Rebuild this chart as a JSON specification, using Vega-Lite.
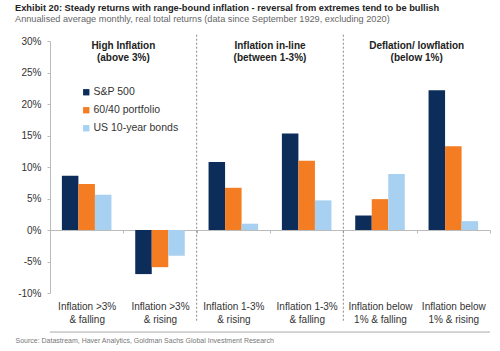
{
  "$schema": "https://vega.github.io/schema/vega-lite/v6.json",
  "width": 440,
  "height": 252,
  "autosize": {"type": "none"},
  "padding": {"left": 50, "top": 41, "right": 10, "bottom": 58},
  "title": {
    "text": "Exhibit 20: Steady returns with range-bound inflation - reversal from extremes tend to be bullish",
    "subtitle": "Annualised average monthly, real total returns (data since September 1929, excluding 2020)",
    "anchor": "start",
    "frame": "group",
    "dx": -35,
    "offset": 10,
    "font": "Liberation Sans",
    "fontSize": 9.3,
    "fontWeight": "bold",
    "color": "#222222",
    "subtitleFont": "Liberation Sans",
    "subtitleFontSize": 9.2,
    "subtitleColor": "#666666",
    "subtitlePadding": 2
  },
  "config": {"view": {"stroke": null}, "font": "Liberation Sans"},
  "datasets": {
    "bars": [
      {"cat": "Inflation >3%|& falling", "series": "S&P 500", "value": 8.6},
      {"cat": "Inflation >3%|& falling", "series": "60/40 portfolio", "value": 7.3},
      {"cat": "Inflation >3%|& falling", "series": "US 10-year bonds", "value": 5.6},
      {"cat": "Inflation >3%|& rising", "series": "S&P 500", "value": -7.0},
      {"cat": "Inflation >3%|& rising", "series": "60/40 portfolio", "value": -5.9},
      {"cat": "Inflation >3%|& rising", "series": "US 10-year bonds", "value": -4.1},
      {"cat": "Inflation 1-3%|& rising", "series": "S&P 500", "value": 10.8},
      {"cat": "Inflation 1-3%|& rising", "series": "60/40 portfolio", "value": 6.7},
      {"cat": "Inflation 1-3%|& rising", "series": "US 10-year bonds", "value": 1.0},
      {"cat": "Inflation 1-3%|& falling", "series": "S&P 500", "value": 15.3},
      {"cat": "Inflation 1-3%|& falling", "series": "60/40 portfolio", "value": 11.0},
      {"cat": "Inflation 1-3%|& falling", "series": "US 10-year bonds", "value": 4.7},
      {"cat": "Inflation below|1% & falling", "series": "S&P 500", "value": 2.3},
      {"cat": "Inflation below|1% & falling", "series": "60/40 portfolio", "value": 4.9},
      {"cat": "Inflation below|1% & falling", "series": "US 10-year bonds", "value": 8.9},
      {"cat": "Inflation below|1% & rising", "series": "S&P 500", "value": 22.2},
      {"cat": "Inflation below|1% & rising", "series": "60/40 portfolio", "value": 13.3},
      {"cat": "Inflation below|1% & rising", "series": "US 10-year bonds", "value": 1.4}
    ],
    "dividers": [
      {"cat": "Inflation 1-3%|& rising"},
      {"cat": "Inflation below|1% & falling"}
    ],
    "groups": [
      {"cat": "Inflation >3%|& rising", "label": ["High Inflation", "(above 3%)"]},
      {"cat": "Inflation 1-3%|& falling", "label": ["Inflation in-line", "(between 1-3%)"]},
      {"cat": "Inflation below|1% & rising", "label": ["Deflation/ lowflation", "(below 1%)"]}
    ]
  },
  "layer": [
    {
      "data": {"name": "bars"},
      "mark": {"type": "bar"},
      "encoding": {
        "x": {
          "field": "cat",
          "type": "nominal",
          "scale": {"domain": ["Inflation >3%|& falling", "Inflation >3%|& rising", "Inflation 1-3%|& rising", "Inflation 1-3%|& falling", "Inflation below|1% & falling", "Inflation below|1% & rising"], "paddingInner": 0, "paddingOuter": 0},
          "axis": {
            "orient": "bottom",
            "offset": -63,
            "labelExpr": "split(datum.label, '|')",
            "labelAngle": 0,
            "labelFontSize": 10,
            "labelColor": "#333333",
            "labelLineHeight": 13,
            "labelPadding": 68,
            "tickBand": "extent",
            "tickSize": 3,
            "tickColor": "#bbbbbb",
            "domainColor": "#bbbbbb",
            "title": "Source: Datastream, Haver Analytics, Goldman Sachs Global Investment Research",
            "titleFontSize": 7,
            "titleFontWeight": "normal",
            "titleColor": "#777777",
            "titleAnchor": "start",
            "titleAlign": "left",
            "titleX": -35,
            "titleY": 110,
            "titleBaseline": "middle"
          }
        },
        "xOffset": {
          "field": "series",
          "type": "nominal",
          "sort": ["S&P 500", "60/40 portfolio", "US 10-year bonds"],
          "scale": {"paddingInner": 0, "paddingOuter": 0.72}
        },
        "y": {
          "field": "value",
          "type": "quantitative",
          "scale": {"domain": [-10, 30], "nice": false},
          "axis": {
            "values": [-10, -5, 0, 5, 10, 15, 20, 25, 30],
            "labelExpr": "datum.value + '%'",
            "labelOverlap": false,
            "labelFontSize": 10,
            "labelColor": "#333333",
            "labelPadding": 6,
            "domainColor": "#bbbbbb",
            "tickColor": "#bbbbbb",
            "tickSize": 3,
            "grid": false,
            "title": null
          }
        },
        "color": {
          "field": "series",
          "type": "nominal",
          "scale": {"domain": ["S&P 500", "60/40 portfolio", "US 10-year bonds"], "range": ["#0c2d5a", "#f47c22", "#a8d0f0"]},
          "legend": {
            "orient": "none",
            "legendX": 31,
            "legendY": 46,
            "title": null,
            "symbolType": "square",
            "symbolSize": 40,
            "symbolStrokeWidth": 0,
            "labelFontSize": 10.5,
            "labelColor": "#333333",
            "rowPadding": 7,
            "labelOffset": 2
          }
        }
      }
    },
    {
      "data": {"name": "dividers"},
      "mark": {"type": "rule", "color": "#888888", "strokeDash": [2, 2], "strokeWidth": 1},
      "encoding": {
        "x": {"field": "cat", "type": "nominal", "bandPosition": 0},
        "y": {"datum": 31, "axis": {"values": [-10, -5, 0, 5, 10, 15, 20, 25, 30], "labelExpr": "datum.value + '%'", "labelOverlap": false, "title": null}},
        "y2": {"datum": -14.5}
      }
    },
    {
      "data": {"name": "groups"},
      "mark": {"type": "text", "fontWeight": "bold", "fontSize": 10, "color": "#222222", "baseline": "top", "lineHeight": 12},
      "encoding": {
        "x": {"field": "cat", "type": "nominal", "bandPosition": 0},
        "y": {"datum": 30, "axis": {"values": [-10, -5, 0, 5, 10, 15, 20, 25, 30], "labelExpr": "datum.value + '%'", "labelOverlap": false, "title": null}},
        "text": {"field": "label"}
      }
    },
    {
      "data": {"values": [{}]},
      "mark": {"type": "rule", "color": "#aaaaaa", "strokeWidth": 1},
      "encoding": {"y": {"datum": -16.2, "axis": {"values": [-10, -5, 0, 5, 10, 15, 20, 25, 30], "labelExpr": "datum.value + '%'", "labelOverlap": false, "title": null}}}
    }
  ]
}
